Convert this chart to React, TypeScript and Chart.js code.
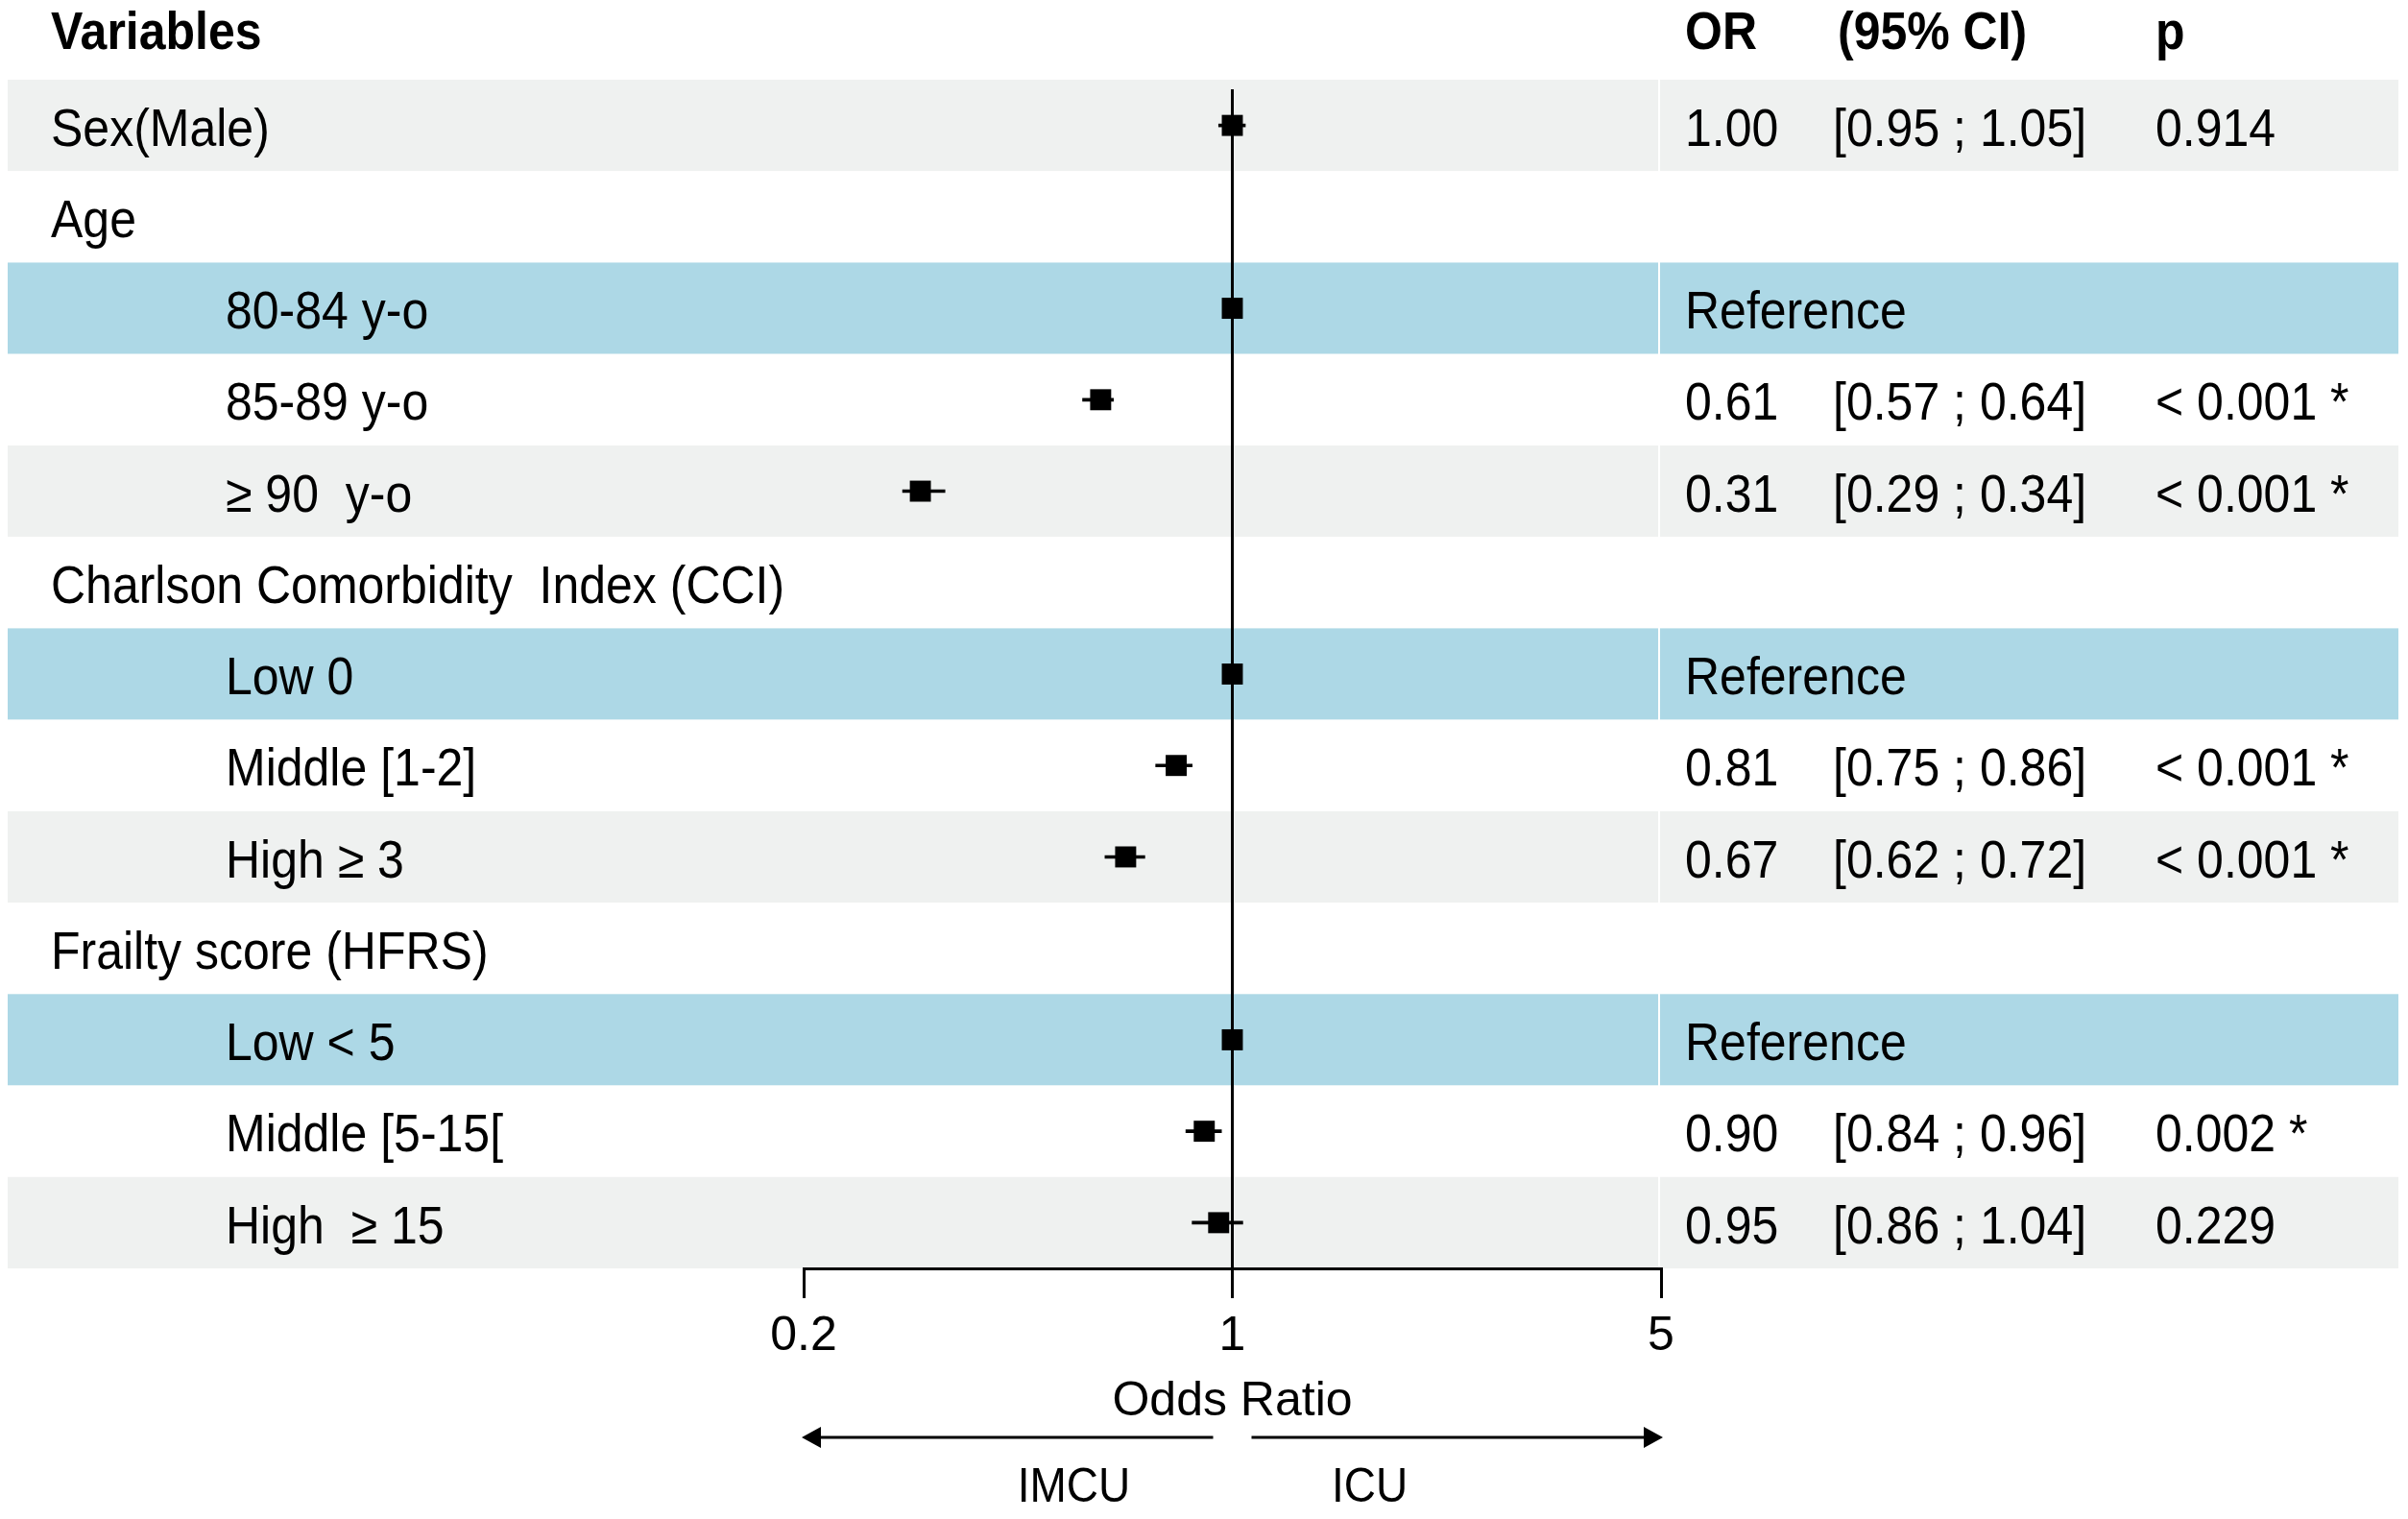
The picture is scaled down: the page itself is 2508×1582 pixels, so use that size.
import { useEffect, useRef } from 'react';
import { Chart, registerables } from 'chart.js';

Chart.register(...registerables);

// ---- Data ----
const variables = [
  'Sex(Male)',
  'Age',
  '80-84 y-o',
  '85-89 y-o',
  '≥ 90  y-o',
  'Charlson Comorbidity  Index (CCI)',
  'Low 0',
  'Middle [1-2]',
  'High ≥ 3',
  'Frailty score (HFRS)',
  'Low < 5',
  'Middle [5-15[',
  'High  ≥ 15',
];
const isSubgroup = [false, false, true, true, true, false, true, true, true, false, true, true, true];
const isReference = [false, false, true, false, false, false, true, false, false, false, true, false, false];
const oddsRatios: (number | null)[] = [1.0, null, 1, 0.61, 0.31, null, 1, 0.81, 0.67, null, 1, 0.9, 0.95];
const ciLower: (number | null)[] = [0.95, null, null, 0.57, 0.29, null, null, 0.75, 0.62, null, null, 0.84, 0.86];
const ciUpper: (number | null)[] = [1.05, null, null, 0.64, 0.34, null, null, 0.86, 0.72, null, null, 0.96, 1.04];
const pValues = ['0.914', '', '', '< 0.001 *', '< 0.001 *', '', '', '< 0.001 *', '< 0.001 *', '', '', '0.002 *', '0.229'];

const columnHeaders = ['Variables', 'OR', '(95% CI)', 'p'];
const referenceLabel = 'Reference';
const axisTicks = [0.2, 1, 5];
const axisTickLabels = ['0.2', '1', '5'];
const axisTitle = 'Odds Ratio';
const directionLabels = ['IMCU', 'ICU'];

// ---- Styles / layout ----
const W = 2508;
const H = 1582;
const FONT = '"Liberation Sans", Arial, Helvetica, sans-serif';
const FONT_SIZE = 50;
const TEXT_STRETCH_Y = 1.1;
const ROW_TEXT_SHIFT = 6;
const BAND_CYCLE = ['#eff1f0', '#ffffff', '#add8e6', '#ffffff'];
const BAND_LEFT = 8;
const BAND_RIGHT = 2498;
const TABLE_DIVIDER_X = 1727;
const LABEL_X = 53;
const SUB_LABEL_X = 235;
const OR_X = 1755;
const CI_X = 1909;
const CI_HEADER_X = 1914;
const P_X = 2245;
const ARROW_Y = 1497;
const DIRECTION_Y = 1550;

const fmt = (v: number) => v.toFixed(2);

// text drawn slightly taller than the font's natural proportions
function tallText(ctx: CanvasRenderingContext2D, text: string, x: number, y: number) {
  ctx.save();
  ctx.translate(x, y);
  ctx.scale(1, TEXT_STRETCH_Y);
  ctx.fillText(text, 0, 0);
  ctx.restore();
}

const tablePlugin = {
  id: 'forestTable',
  beforeDraw(chart: any) {
    const { ctx } = chart;
    const y = chart.scales.y;
    ctx.save();
    variables.forEach((_, i) => {
      const top = y.getPixelForValue(i - 0.5);
      const bottom = y.getPixelForValue(i + 0.5);
      ctx.fillStyle = BAND_CYCLE[i % BAND_CYCLE.length];
      ctx.fillRect(BAND_LEFT, top, BAND_RIGHT - BAND_LEFT, bottom - top);
    });
    // thin gap between the plot panel and the statistics columns
    const top = y.getPixelForValue(-0.5);
    const bottom = y.getPixelForValue(variables.length - 0.5);
    ctx.fillStyle = '#ffffff';
    ctx.fillRect(TABLE_DIVIDER_X, top, 2, bottom - top);
    ctx.restore();
  },
  beforeDatasetsDraw(chart: any) {
    const { ctx, chartArea } = chart;
    const x1 = chart.scales.x.getPixelForValue(1);
    ctx.save();
    ctx.strokeStyle = '#000';
    ctx.lineWidth = 3;
    ctx.beginPath();
    ctx.moveTo(x1, chartArea.top + 10);
    ctx.lineTo(x1, chartArea.bottom);
    ctx.stroke();
    ctx.restore();
  },
  afterDraw(chart: any) {
    const { ctx } = chart;
    const y = chart.scales.y;
    const xs = chart.scales.x;
    ctx.save();
    ctx.fillStyle = '#000';
    ctx.textBaseline = 'middle';
    ctx.textAlign = 'left';

    // column headers
    const hy = y.getPixelForValue(-1);
    ctx.font = `bold ${FONT_SIZE}px ${FONT}`;
    tallText(ctx, columnHeaders[0], LABEL_X, hy);
    tallText(ctx, columnHeaders[1], OR_X, hy);
    tallText(ctx, columnHeaders[2], CI_HEADER_X, hy);
    tallText(ctx, columnHeaders[3], P_X, hy);

    // rows
    ctx.font = `${FONT_SIZE}px ${FONT}`;
    variables.forEach((name, i) => {
      const cy = y.getPixelForValue(i) + ROW_TEXT_SHIFT;
      tallText(ctx, name, isSubgroup[i] ? SUB_LABEL_X : LABEL_X, cy);
      if (isReference[i]) {
        tallText(ctx, referenceLabel, OR_X, cy);
      } else if (oddsRatios[i] != null) {
        tallText(ctx, fmt(oddsRatios[i] as number), OR_X, cy);
        tallText(ctx, `[${fmt(ciLower[i] as number)} ; ${fmt(ciUpper[i] as number)}]`, CI_X, cy);
        tallText(ctx, pValues[i], P_X, cy);
      }
    });

    // direction arrows under the axis
    const x0 = xs.getPixelForValue(axisTicks[0]);
    const x1 = xs.getPixelForValue(1);
    const x5 = xs.getPixelForValue(axisTicks[axisTicks.length - 1]);
    ctx.strokeStyle = '#000';
    ctx.lineWidth = 3;
    ctx.beginPath();
    ctx.moveTo(x1 - 20, ARROW_Y);
    ctx.lineTo(x0 + 10, ARROW_Y);
    ctx.moveTo(x1 + 20, ARROW_Y);
    ctx.lineTo(x5 - 10, ARROW_Y);
    ctx.stroke();
    ctx.beginPath();
    ctx.moveTo(x0 - 2, ARROW_Y);
    ctx.lineTo(x0 + 18, ARROW_Y - 11);
    ctx.lineTo(x0 + 18, ARROW_Y + 11);
    ctx.closePath();
    ctx.moveTo(x5 + 2, ARROW_Y);
    ctx.lineTo(x5 - 18, ARROW_Y - 11);
    ctx.lineTo(x5 - 18, ARROW_Y + 11);
    ctx.closePath();
    ctx.fill();

    ctx.font = `46px ${FONT}`;
    ctx.textAlign = 'center';
    tallText(ctx, directionLabels[0], x1 - 165, DIRECTION_Y);
    tallText(ctx, directionLabels[1], x1 + 143, DIRECTION_Y);
    ctx.restore();
  },
};

export default function App() {
  const canvasRef = useRef<HTMLCanvasElement>(null);

  useEffect(() => {
    document.body.style.margin = '0';
    const canvas = canvasRef.current;
    if (!canvas) return;

    const points = oddsRatios
      .map((v, i) => (v == null ? null : { x: v, y: i }))
      .filter((p) => p !== null);
    const intervals = ciLower
      .map((lo, i) => (lo == null || ciUpper[i] == null ? null : { y: i, x: [lo, ciUpper[i]] }))
      .filter((p) => p !== null);

    const chart = new Chart(canvas, {
      type: 'scatter',
      data: {
        datasets: [
          {
            type: 'scatter',
            label: 'OR',
            data: points as any,
            pointStyle: 'rect',
            pointRadius: 15.5,
            pointHoverRadius: 15.5,
            backgroundColor: '#000',
            borderColor: '#000',
            borderWidth: 0,
          },
          {
            type: 'bar',
            label: '95% CI',
            indexAxis: 'y',
            data: intervals as any,
            backgroundColor: '#000',
            borderWidth: 0,
            barThickness: 3,
            borderSkipped: false,
          } as any,
        ],
      },
      options: {
        responsive: false,
        animation: false,
        events: [],
        layout: { padding: { left: 837, right: W - 1730, top: 83, bottom: 0 } },
        plugins: {
          legend: { display: false },
          tooltip: { enabled: false },
        },
        scales: {
          x: {
            type: 'logarithmic',
            min: axisTicks[0],
            max: axisTicks[axisTicks.length - 1],
            offset: false,
            afterBuildTicks: (scale: any) => {
              scale.ticks = axisTicks.map((v) => ({ value: v }));
            },
            afterFit: (scale: any) => {
              scale.height = H - 1321;
            },
            ticks: {
              autoSkip: false,
              maxRotation: 0,
              padding: 10,
              color: '#000',
              font: { family: FONT, size: FONT_SIZE },
              callback: (_v: any, i: number) => axisTickLabels[i],
            },
            grid: {
              display: true,
              offset: false,
              drawOnChartArea: false,
              drawTicks: true,
              tickLength: 31,
              tickWidth: 3,
              color: '#000',
              lineWidth: 3,
            },
            border: { display: true, color: '#000', width: 3 },
            title: {
              display: true,
              text: axisTitle,
              color: '#000',
              font: { family: FONT, size: FONT_SIZE },
              padding: { top: 0, bottom: 92 },
            },
          } as any,
          y: {
            type: 'linear',
            min: -0.5,
            max: variables.length - 0.5,
            reverse: true,
            offset: false,
            grid: { offset: false },
            display: false,
          } as any,
        },
      },
      plugins: [tablePlugin],
    });

    return () => chart.destroy();
  }, []);

  return (
    <canvas
      ref={canvasRef}
      width={W}
      height={H}
      style={{ display: 'block', width: `${W}px`, height: `${H}px` }}
    />
  );
}
